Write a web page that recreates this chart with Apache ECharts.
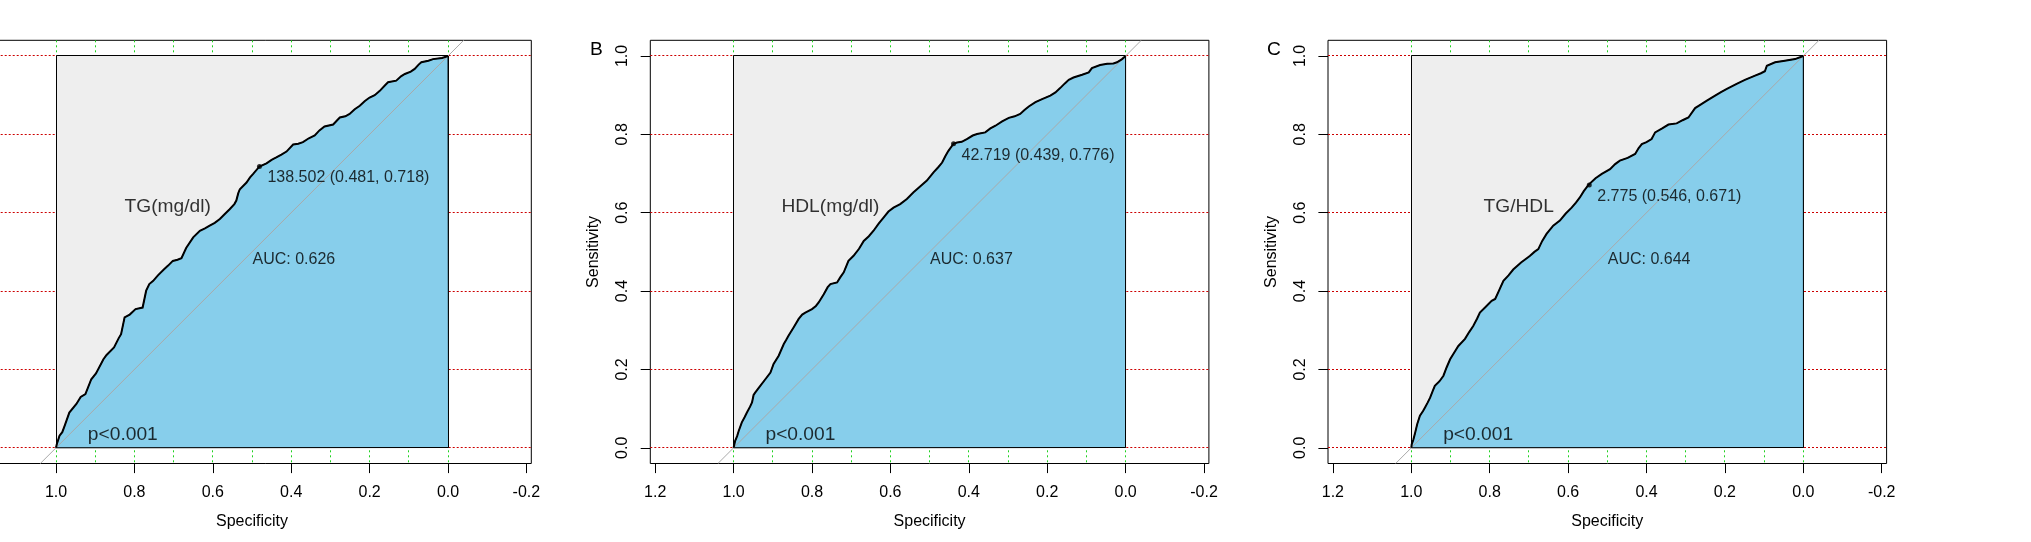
<!DOCTYPE html>
<html><head><meta charset="utf-8">
<script src="https://cdn.jsdelivr.net/npm/echarts@6/dist/echarts.min.js"></script>
<style>html,body{margin:0;padding:0;background:#fff}#c{width:2031px;height:542px}</style>
</head><body><div id="c"></div>
<script>
// ---------------- data ----------------
const panelLetters = ['A', 'B', 'C'];
const markerNames = ['TG(mg/dl)', 'HDL(mg/dl)', 'TG/HDL'];
const aucValues = ['0.626', '0.637', '0.644'];
const pValueText = 'p<0.001';
const thresholdValues = ['138.502', '42.719', '2.775'];
const thresholdSpec = [0.481, 0.439, 0.546];
const thresholdSens = [0.718, 0.776, 0.671];
const xTickValues = [-0.2, 0, 0.2, 0.4, 0.6, 0.8, 1.0, 1.2];
const yTickValues = [0, 0.2, 0.4, 0.6, 0.8, 1.0];
const gridXValues = [0, 0.1, 0.2, 0.3, 0.4, 0.5, 0.6, 0.7, 0.8, 0.9, 1.0];
const gridYValues = [0, 0.2, 0.4, 0.6, 0.8, 1.0];
const squareCorners = [[1, 0], [1, 1], [0, 1], [0, 0]];
const identityEnds = [[1.04, -0.04], [-0.04, 1.04]];

// ROC curves: [specificity, sensitivity]
const curveA = [
  [1.000,0.000],[0.998,0.009],[0.991,0.031],[0.984,0.040],[0.978,0.056],[0.966,0.090],[0.948,0.112],
  [0.937,0.130],[0.925,0.137],[0.910,0.175],[0.898,0.190],[0.879,0.226],[0.871,0.237],[0.852,0.256],
  [0.840,0.280],[0.834,0.290],[0.825,0.333],[0.812,0.340],[0.797,0.354],[0.779,0.358],[0.770,0.401],
  [0.762,0.418],[0.752,0.426],[0.740,0.440],[0.725,0.455],[0.714,0.465],[0.702,0.477],[0.690,0.480],
  [0.680,0.484],[0.668,0.510],[0.650,0.537],[0.633,0.554],[0.620,0.560],[0.608,0.567],[0.595,0.574],
  [0.582,0.584],[0.570,0.596],[0.557,0.609],[0.545,0.622],[0.540,0.631],[0.535,0.650],[0.531,0.660],
  [0.514,0.677],[0.505,0.690],[0.497,0.699],[0.481,0.718],[0.463,0.726],[0.450,0.735],[0.438,0.741],
  [0.425,0.748],[0.412,0.756],[0.395,0.774],[0.382,0.776],[0.370,0.780],[0.355,0.790],[0.340,0.797],
  [0.328,0.810],[0.315,0.820],[0.293,0.825],[0.276,0.843],[0.262,0.846],[0.251,0.852],[0.238,0.864],
  [0.225,0.873],[0.212,0.885],[0.200,0.894],[0.187,0.900],[0.174,0.911],[0.160,0.926],[0.153,0.933],
  [0.132,0.937],[0.120,0.948],[0.110,0.954],[0.095,0.960],[0.085,0.967],[0.075,0.978],[0.068,0.984],
  [0.050,0.988],[0.038,0.992],[0.015,0.995],[0.000,1.000]
];
const curveB = [
  [1.000,0.000],[0.996,0.018],[0.991,0.030],[0.987,0.043],[0.979,0.065],[0.972,0.078],[0.966,0.090],
  [0.958,0.105],[0.953,0.116],[0.949,0.135],[0.945,0.141],[0.932,0.158],[0.919,0.175],[0.906,0.192],
  [0.898,0.214],[0.885,0.235],[0.872,0.265],[0.866,0.275],[0.860,0.286],[0.847,0.307],[0.834,0.329],
  [0.825,0.340],[0.817,0.345],[0.800,0.354],[0.790,0.362],[0.783,0.371],[0.770,0.392],[0.760,0.410],
  [0.753,0.418],[0.736,0.422],[0.728,0.435],[0.719,0.448],[0.707,0.477],[0.694,0.490],[0.680,0.508],
  [0.668,0.528],[0.655,0.540],[0.643,0.554],[0.630,0.572],[0.617,0.588],[0.605,0.603],[0.592,0.613],
  [0.575,0.622],[0.558,0.635],[0.541,0.652],[0.525,0.666],[0.507,0.682],[0.490,0.703],[0.478,0.716],
  [0.468,0.728],[0.460,0.744],[0.452,0.758],[0.439,0.776],[0.430,0.779],[0.418,0.781],[0.405,0.788],
  [0.390,0.797],[0.379,0.801],[0.358,0.805],[0.345,0.815],[0.332,0.822],[0.315,0.833],[0.298,0.842],
  [0.283,0.846],[0.269,0.852],[0.258,0.862],[0.247,0.871],[0.230,0.882],[0.213,0.890],[0.192,0.899],
  [0.179,0.907],[0.167,0.918],[0.155,0.930],[0.145,0.939],[0.133,0.945],[0.111,0.952],[0.094,0.958],
  [0.086,0.969],[0.065,0.977],[0.047,0.980],[0.031,0.981],[0.022,0.984],[0.009,0.992],[0.000,1.000]
];
const curveC = [
  [1.000,0.000],[0.999,0.009],[0.995,0.020],[0.991,0.035],[0.985,0.060],[0.978,0.082],[0.970,0.094],
  [0.965,0.103],[0.958,0.116],[0.952,0.128],[0.945,0.146],[0.940,0.158],[0.928,0.170],[0.918,0.184],
  [0.910,0.205],[0.901,0.226],[0.890,0.244],[0.880,0.260],[0.863,0.278],[0.852,0.296],[0.842,0.311],
  [0.832,0.330],[0.825,0.345],[0.810,0.360],[0.795,0.375],[0.786,0.380],[0.776,0.402],[0.765,0.426],
  [0.752,0.440],[0.740,0.455],[0.720,0.473],[0.708,0.482],[0.697,0.490],[0.686,0.500],[0.676,0.507],
  [0.666,0.528],[0.655,0.546],[0.638,0.567],[0.621,0.580],[0.606,0.598],[0.591,0.613],[0.580,0.626],
  [0.570,0.639],[0.560,0.655],[0.548,0.671],[0.530,0.688],[0.514,0.699],[0.493,0.711],[0.480,0.724],
  [0.468,0.733],[0.448,0.740],[0.429,0.750],[0.420,0.765],[0.412,0.775],[0.400,0.780],[0.387,0.788],
  [0.378,0.805],[0.360,0.815],[0.344,0.825],[0.323,0.828],[0.308,0.836],[0.293,0.843],[0.276,0.867],
  [0.262,0.876],[0.246,0.886],[0.225,0.899],[0.210,0.908],[0.195,0.916],[0.170,0.929],[0.149,0.939],
  [0.123,0.950],[0.108,0.956],[0.098,0.961],[0.093,0.975],[0.072,0.984],[0.047,0.988],[0.021,0.992],
  [0.000,1.000]
];
const curves = [curveA, curveB, curveC];

// ---------------- layout / style ----------------
const FONT = "'Liberation Sans', Arial, sans-serif";
const gridLefts = [-27.3, 650.3, 1328.0];
const gridTop = 40.3;
const gridW = 558.6;
const gridH = 423.2;
const namePos = [[0.715, 0.616], [0.753, 0.615], [0.726, 0.616]];
const aucPos = [0.5, 0.48];
const pPos = [0.92, 0.033];

function crisp(v) { return Math.round(v - 0.5) + 0.5; }

const grids = [], xAxes = [], yAxes = [], series = [], graphics = [];
for (let i = 0; i < 3; i++) {
  grids.push({ left: gridLefts[i], top: gridTop, width: gridW, height: gridH, show: true,
    borderColor: '#000', borderWidth: 1, backgroundColor: 'transparent', containLabel: false,
    outerBoundsMode: 'none' });
  xAxes.push({ gridIndex: i, type: 'value', inverse: true, min: -0.2125, max: 1.2125,
    axisLine: { show: false, onZero: false }, splitLine: { show: false },
    axisTick: { show: true, length: 9.6, lineStyle: { color: '#000', width: 1 }, customValues: xTickValues },
    axisLabel: { customValues: xTickValues, formatter: v => Number(v).toFixed(1), fontSize: 16,
      color: '#000', fontFamily: FONT, margin: 21, lineHeight: 16 },
    name: 'Specificity', nameLocation: 'middle', nameGap: 50,
    nameTextStyle: { fontSize: 16, color: '#000', fontFamily: FONT, lineHeight: 16 } });
  yAxes.push({ gridIndex: i, type: 'value', min: -0.04, max: 1.04,
    axisLine: { show: false, onZero: false }, splitLine: { show: false },
    axisTick: { show: true, length: 9.6, lineStyle: { color: '#000', width: 1 }, customValues: yTickValues },
    axisLabel: { customValues: yTickValues, formatter: v => Number(v).toFixed(1), fontSize: 16, rotate: 90,
      color: '#000', fontFamily: FONT, margin: 19.6, lineHeight: 16 },
    name: 'Sensitivity', nameLocation: 'middle', nameGap: 48.3,
    nameTextStyle: { fontSize: 16, color: '#000', fontFamily: FONT, lineHeight: 16 } });

  const ax = { xAxisIndex: i, yAxisIndex: i };
  // vertical green dotted grid
  series.push(Object.assign({ type: 'custom', z: 1, silent: true,
    data: gridXValues.map(v => [v, 0.5]),
    renderItem: (params, api) => {
      const cs = params.coordSys; const x = crisp(api.coord([api.value(0), 0.5])[0]);
      return { type: 'line', shape: { x1: x, y1: cs.y, x2: x, y2: cs.y + cs.height },
        style: { stroke: '#1fd11f', lineWidth: 1, lineDash: [2, 3] } };
    } }, ax));
  // horizontal red dotted grid
  series.push(Object.assign({ type: 'custom', z: 1, silent: true,
    data: gridYValues.map(v => [0.5, v]),
    renderItem: (params, api) => {
      const cs = params.coordSys; const y = crisp(api.coord([0.5, api.value(1)])[1]);
      return { type: 'line', shape: { x1: cs.x, y1: y, x2: cs.x + cs.width, y2: y },
        style: { stroke: '#cc0000', lineWidth: 1, lineDash: [2, 2] } };
    } }, ax));
  // grey max-AUC square
  series.push(Object.assign({ type: 'custom', z: 2, silent: true, data: squareCorners,
    renderItem: (params, api) => {
      if (params.dataIndex !== 0) return null;
      const pts = squareCorners.map(p => api.coord(p)).map(p => [crisp(p[0]), crisp(p[1])]);
      return { type: 'polygon', shape: { points: pts }, style: { fill: '#eeeeee', stroke: '#000', lineWidth: 1 } };
    } }, ax));
  // blue AUC polygon
  const cv = curves[i];
  series.push(Object.assign({ type: 'custom', z: 3, silent: true, data: cv,
    renderItem: (params, api) => {
      if (params.dataIndex !== 0) return null;
      const pts = cv.map(p => api.coord(p));
      const c0 = api.coord([0, 0]);
      return { type: 'polygon', shape: { points: pts.concat([[crisp(c0[0]), crisp(c0[1])]]) },
        style: { fill: '#87ceeb', stroke: '#000', lineWidth: 1 } };
    } }, ax));
  // identity line
  series.push(Object.assign({ type: 'line', z: 4, silent: true, data: identityEnds, showSymbol: false,
    lineStyle: { color: '#a9a9a9', width: 1 } }, ax));
  // ROC curve
  series.push(Object.assign({ type: 'line', z: 5, silent: true, data: cv, showSymbol: false,
    lineStyle: { color: '#000', width: 2, join: 'miter' } }, ax));
  // threshold point + label
  series.push(Object.assign({ type: 'scatter', z: 6, silent: true, symbolSize: 5,
    itemStyle: { color: '#000' },
    data: [[thresholdSpec[i], thresholdSens[i]]],
    label: { show: true, position: 'right', distance: 5.5, offset: [0, 11.6],
      formatter: thresholdValues[i] + ' (' + thresholdSpec[i].toFixed(3) + ', ' + thresholdSens[i].toFixed(3) + ')',
      fontSize: 16, color: '#000', fontFamily: FONT } }, ax));
  // text annotations
  series.push(Object.assign({ type: 'scatter', z: 7, silent: true, symbolSize: 1,
    itemStyle: { color: 'rgba(0,0,0,0)' },
    data: [
      { value: namePos[i], label: { show: true, position: 'inside', formatter: markerNames[i], fontSize: 19.2, color: '#000', fontFamily: FONT } },
      { value: aucPos, label: { show: true, position: 'right', distance: 0, formatter: 'AUC: ' + aucValues[i], fontSize: 16, color: '#000', fontFamily: FONT } },
      { value: pPos, label: { show: true, position: 'right', distance: 0, formatter: pValueText, fontSize: 19.2, color: '#000', fontFamily: FONT } }
    ] }, ax));
  // panel letter
  graphics.push({ type: 'text', x: gridLefts[i] - 54, y: 50, silent: true,
    style: { text: panelLetters[i], fontSize: 19.2, fontFamily: FONT, fill: '#000', align: 'center', verticalAlign: 'middle' } });
}

const chart = echarts.init(document.getElementById('c'), null, { renderer: 'canvas' });
chart.setOption({ animation: false, backgroundColor: '#fff', grid: grids, xAxis: xAxes, yAxis: yAxes,
  series: series, graphic: graphics });
</script></body></html>
